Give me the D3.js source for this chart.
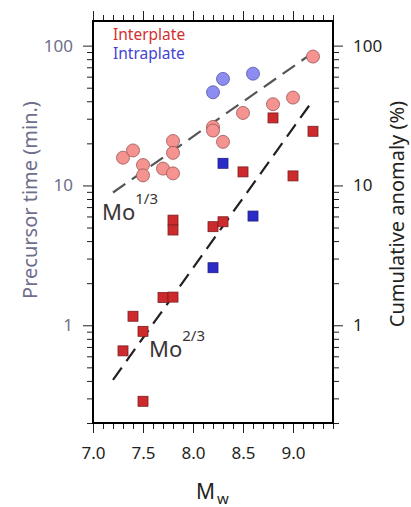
<!DOCTYPE html>
<html>
<head>
<meta charset="utf-8">
<script src="https://cdn.jsdelivr.net/npm/d3@7"></script>
<style>
  body { margin: 0; background: #fff; }
  svg { display: block; font-family: "Noto Sans", sans-serif; }
</style>
</head>
<body>
<svg id="chart" width="411" height="507"></svg>
<script>
// precursor time (min.) — circles
const interCircleMw = [7.3, 7.4, 7.5, 7.5, 7.7, 7.8, 7.8, 7.8, 8.2, 8.2, 8.3, 8.5, 8.8, 9.0, 9.2];
const interCircleT = [15.8, 17.8, 14.0, 11.8, 13.2, 20.8, 17.1, 12.2, 26.2, 24.7, 20.5, 33.0, 38.1, 42.5, 83.5];
const intraCircleMw = [8.2, 8.3, 8.6];
const intraCircleT = [46.4, 57.8, 63.0];

// cumulative anomaly (%) — squares
const interSquareMw = [7.3, 7.4, 7.5, 7.5, 7.7, 7.8, 7.8, 7.8, 8.2, 8.3, 8.5, 8.8, 9.0, 9.2];
const interSquareA = [0.656, 1.16, 0.905, 0.286, 1.58, 1.59, 5.65, 4.80, 5.07, 5.50, 12.5, 30.4, 11.7, 24.4];
const intraSquareMw = [8.2, 8.3, 8.6];
const intraSquareA = [2.58, 14.4, 6.04];

// scaling lines
const lineOneThirdMw = [7.2, 9.15];
const lineOneThirdT = [8.9, 84];
const lineTwoThirdMw = [7.2, 9.2];
const lineTwoThirdT = [0.407, 40.7];

const xTicks = [7.0, 7.5, 8.0, 8.5, 9.0];
const yTicks = [1, 10, 100];

const margins = { top: 21, right: 78, bottom: 84, left: 93 };
const width = 411 - margins.left - margins.right;
const height = 507 - margins.top - margins.bottom;

const x = d3.scaleLinear().domain([7.0, 9.4]).range([0, width]);
const y = d3.scaleLog().domain([0.2, 150]).range([height, 0]);

const svgMain = d3.select("#chart");
const svg = svgMain
  .append("g")
  .attr("transform", "translate(" + margins.left + "," + margins.top + ")");

const minorX = d3.range(70, 95).map((d) => d / 10);
const minorY = [];
[0.1, 1, 10, 100].forEach((dec) => {
  for (let k = 1; k < 10; k++) {
    const v = +(dec * k).toPrecision(3);
    if (v >= 0.2 && v <= 150 && !yTicks.includes(v)) minorY.push(v);
  }
});

const tickColor = "#231f20";
const fmtX = d3.format(".1f");

// bottom axis
svg
  .append("g")
  .attr("transform", "translate(0," + height + ")")
  .call(d3.axisBottom(x).tickValues(minorX).tickSize(6).tickFormat(""))
  .call((g) => g.select(".domain").remove());
svg
  .append("g")
  .attr("transform", "translate(0," + height + ")")
  .call(d3.axisBottom(x).tickValues(xTicks).tickSize(10).tickPadding(14).tickFormat(fmtX))
  .call((g) => g.select(".domain").remove())
  .call((g) => g.selectAll("text").attr("font-size", 17).attr("fill", tickColor).attr("font-family", "Noto Sans"));

// top axis
svg
  .append("g")
  .call(d3.axisTop(x).tickValues(minorX).tickSize(6).tickFormat(""))
  .call((g) => g.select(".domain").remove());
svg
  .append("g")
  .call(d3.axisTop(x).tickValues(xTicks).tickSize(10).tickFormat(""))
  .call((g) => g.select(".domain").remove());

// left axis
svg
  .append("g")
  .call(d3.axisLeft(y).tickValues(minorY).tickSize(6).tickFormat(""))
  .call((g) => g.select(".domain").remove());
svg
  .append("g")
  .call(d3.axisLeft(y).tickValues(yTicks).tickSize(10).tickPadding(10).tickFormat(d3.format("d")))
  .call((g) => g.select(".domain").remove())
  .call((g) => g.selectAll("text").attr("font-size", 17).attr("fill", "#6e6e8c").attr("font-family", "Noto Sans"));

// right axis
svg
  .append("g")
  .attr("transform", "translate(" + width + ",0)")
  .call(d3.axisRight(y).tickValues(minorY).tickSize(6).tickFormat(""))
  .call((g) => g.select(".domain").remove());
svg
  .append("g")
  .attr("transform", "translate(" + width + ",0)")
  .call(d3.axisRight(y).tickValues(yTicks).tickSize(10).tickPadding(10).tickFormat(d3.format("d")))
  .call((g) => g.select(".domain").remove())
  .call((g) => g.selectAll("text").attr("font-size", 17).attr("fill", tickColor).attr("font-family", "Noto Sans"));

svg.selectAll(".tick line").attr("stroke", tickColor).attr("stroke-width", 1);

// frame
svg
  .append("rect")
  .attr("width", width)
  .attr("height", height)
  .attr("fill", "none")
  .attr("stroke", "#000")
  .attr("stroke-width", 2);

// dashed lines
const line = d3
  .line()
  .x((d) => x(d[0]))
  .y((d) => y(d[1]));

svg
  .append("path")
  .datum(d3.zip(lineOneThirdMw, lineOneThirdT))
  .attr("fill", "none")
  .attr("stroke", "#555")
  .attr("stroke-width", 2.2)
  .attr("stroke-dasharray", "15,8")
  .attr("d", line);

svg
  .append("path")
  .datum(d3.zip(lineTwoThirdMw, lineTwoThirdT))
  .attr("fill", "none")
  .attr("stroke", "#231f20")
  .attr("stroke-width", 2.2)
  .attr("stroke-dasharray", "15,8")
  .attr("d", line);

// squares
const sq = 10;
const drawSquares = (mw, vals, fill, stroke) =>
  svg
    .append("g")
    .selectAll("rect")
    .data(d3.zip(mw, vals))
    .enter()
    .append("rect")
    .attr("x", (d) => x(d[0]) - sq / 2)
    .attr("y", (d) => y(d[1]) - sq / 2)
    .attr("width", sq)
    .attr("height", sq)
    .attr("fill", fill)
    .attr("stroke", stroke)
    .attr("stroke-width", 0.8);

drawSquares(interSquareMw, interSquareA, "#cc2a2c", "#7a2020");
drawSquares(intraSquareMw, intraSquareA, "#2b2bc8", "#202080");

// circles
const drawCircles = (mw, vals, fill, stroke) =>
  svg
    .append("g")
    .selectAll("circle")
    .data(d3.zip(mw, vals))
    .enter()
    .append("circle")
    .attr("cx", (d) => x(d[0]))
    .attr("cy", (d) => y(d[1]))
    .attr("r", 6.5)
    .attr("fill", fill)
    .attr("stroke", stroke)
    .attr("stroke-width", 0.8);

drawCircles(interCircleMw, interCircleT, "#f59390", "#9a5555");
drawCircles(intraCircleMw, intraCircleT, "#8c8cf2", "#5555a0");

// legend
svg.append("text").attr("x", 20).attr("y", 19).attr("font-size", 15.5).attr("fill", "#d2302f").text("Interplate");
svg.append("text").attr("x", 20).attr("y", 38).attr("font-size", 15.5).attr("fill", "#4444d2").text("Intraplate");

// Mo labels
const moLabel = (mx, my, exp) => {
  const t = svg
    .append("text")
    .attr("x", mx)
    .attr("y", my)
    .attr("font-size", 22)
    .attr("fill", "#3a3536");
  t.append("tspan").text("Mo");
  t.append("tspan").attr("dy", -16).attr("font-size", 15).text(exp);
};
moLabel(9, 199, "1/3");
moLabel(56, 336, "2/3");

// axis titles
svgMain
  .append("text")
  .attr("transform", "translate(37,200) rotate(-90)")
  .attr("text-anchor", "middle")
  .attr("font-size", 20)
  .attr("fill", "#6e6e8c")
  .text("Precursor time (min.)");

svgMain
  .append("text")
  .attr("transform", "translate(404,214) rotate(-90)")
  .attr("text-anchor", "middle")
  .attr("font-size", 20)
  .attr("fill", tickColor)
  .text("Cumulative anomaly (%)");

const mwTitle = svgMain
  .append("text")
  .attr("x", 196)
  .attr("y", 499)
  .attr("font-size", 21)
  .attr("fill", tickColor);
mwTitle.append("tspan").text("M");
mwTitle.append("tspan").attr("dx", 2).attr("dy", 5).attr("font-size", 15).text("w");
</script>
</body>
</html>
